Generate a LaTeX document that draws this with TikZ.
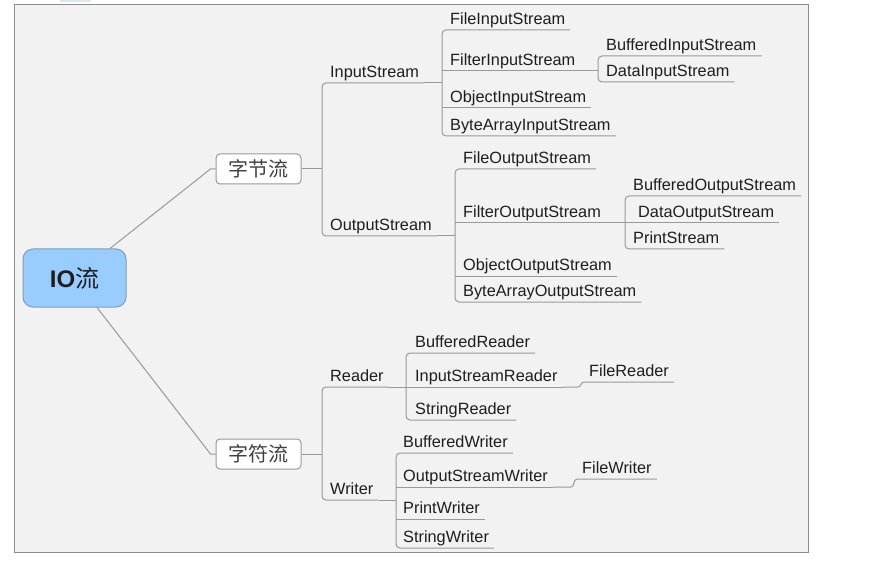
\documentclass[tikz,border=0pt]{standalone}
\usepackage{fontspec}
\setmainfont{Liberation Sans}
\newfontfamily\cjk{Noto Sans CJK SC}
\definecolor{bgc}{HTML}{F2F2F2}
\definecolor{framec}{HTML}{8C8C8C}
\definecolor{linec}{HTML}{999999}
\definecolor{txtc}{HTML}{1E1E1E}
\definecolor{rootfill}{HTML}{99CCFF}
\definecolor{rootdraw}{HTML}{7F9DBF}
\definecolor{tabc}{HTML}{DCE6F0}
\begin{document}
\begin{tikzpicture}[x=1pt,y=-1pt,
  br/.style={draw=linec, line width=1pt, rounded corners=4pt},
  leaf/.style={anchor=south west, inner xsep=5pt, inner ysep=0pt, text depth=5pt,
    font=\fontsize{16.3}{18}\selectfont, text=txtc},
  cat/.style={draw=linec, line width=1pt, fill=white, rounded corners=4pt,
    minimum width=85pt, minimum height=30pt, inner sep=0pt,
    font=\cjk\fontsize{20}{22}\selectfont, text=txtc!85},
  rootbox/.style={draw=rootdraw, line width=1pt, fill=rootfill, rounded corners=10pt,
    minimum width=103pt, minimum height=58pt, inner sep=0pt,
    font=\fontsize{24}{26}\selectfont, text=txtc}
]
\useasboundingbox (0,0) rectangle (873,564);
\fill[tabc] (60,0) rectangle (91,2);
\draw[fill=bgc, draw=framec, line width=1pt] (14,5) rectangle (808,552);

% root and categories
\node[rootbox] (io) at (74.5,278) {\textbf{IO}{\cjk 流}};
\node[cat] (zj) at (258.5,169) {字节流};
\node[cat] (zf) at (258.5,454) {字符流};

\draw[br, rounded corners=0pt] ([xshift=35.5pt]io.north) -- ([xshift=-5pt]zj.west) -- (zj.west);
\draw[br, rounded corners=0pt] ([xshift=22.5pt]io.south) -- ([xshift=-5pt]zf.west) -- (zf.west);

% junction coordinates
\coordinate (jA) at (322,169);
\coordinate (jB) at (322,454);
\coordinate (jIS) at (442,83);
\coordinate (jFIS) at (598,71);
\coordinate (jOS) at (455,236);
\coordinate (jFOS) at (625,223);
\coordinate (jR) at (406,387);
\coordinate (jW) at (396,500);

% level 2
\node[leaf] (is) at (325,83) {InputStream};
\node[leaf] (os) at (325,236) {OutputStream};
\node[leaf] (rd) at (325,387) {Reader};
\node[leaf] (wr) at (325,500) {Writer};

% InputStream children
\node[leaf] (fis) at (445,30) {FileInputStream};
\node[leaf] (filis) at (445,71) {FilterInputStream};
\node[leaf] (ois) at (445,108) {ObjectInputStream};
\node[leaf] (bais) at (445,136) {ByteArrayInputStream};
\node[leaf] (bis) at (601,56) {BufferedInputStream};
\node[leaf] (dis) at (601,82) {DataInputStream};

% OutputStream children
\node[leaf] (fos) at (458,169) {FileOutputStream};
\node[leaf] (filos) at (458,223) {FilterOutputStream};
\node[leaf] (oos) at (458,276) {ObjectOutputStream};
\node[leaf] (baos) at (458,302) {ByteArrayOutputStream};
\node[leaf] (bos) at (628,196) {BufferedOutputStream};
\node[leaf] (dos) at (633,223) {DataOutputStream};
\node[leaf] (ps) at (628,249) {PrintStream};

% Reader children
\node[leaf] (brd) at (410,353) {BufferedReader};
\node[leaf] (isr) at (410,387) {InputStreamReader};
\node[leaf] (srd) at (410,420) {StringReader};
\node[leaf] (frd) at (584,382) {FileReader};

% Writer children
\node[leaf] (bwr) at (398,453) {BufferedWriter};
\node[leaf] (osw) at (398,487) {OutputStreamWriter};
\node[leaf] (pwr) at (398,519) {PrintWriter};
\node[leaf] (swr) at (398,548) {StringWriter};
\node[leaf] (fwr) at (577,479) {FileWriter};

% level-1 connectors
\draw[br] (zj.east) -- (jA);
\draw[br] (zf.east) -- (jB);
\draw[br] (is.south east) -| (jA) |- (os.south east);
\draw[br] (rd.south east) -| (jB) |- (wr.south east);

% parent lines to junctions
\draw[br] (is.south east) -- (jIS);
\draw[br] (os.south east) -- (jOS);
\draw[br] (rd.south east) -- (jR);
\draw[br] (wr.south east) -- (jW);
\draw[br] (filis.south east) -- (jFIS);
\draw[br] (filos.south east) -- (jFOS);

% InputStream trunk
\draw[br] (fis.south east) -| (jIS) |- (bais.south east);
\draw[br] (jIS |- filis.south) -- (filis.south east);
\draw[br] (jIS |- ois.south) -- (ois.south east);
\draw[br] (bis.south east) -| (jFIS) |- (dis.south east);

% OutputStream trunk
\draw[br] (fos.south east) -| (jOS) |- (baos.south east);
\draw[br] (jOS |- filos.south) -- (filos.south east);
\draw[br] (jOS |- oos.south) -- (oos.south east);
\draw[br] (bos.south east) -| (jFOS) |- (ps.south east);
\draw[br] (jFOS |- dos.south) -- (dos.south east);

% Reader trunk
\draw[br] (brd.south east) -| (jR) |- (srd.south east);
\draw[br] (jR |- isr.south) -- (isr.south east);
\draw[br, rounded corners=0pt] (isr.south east) -- ([xshift=-6pt]frd.south west |- isr.south east)
  to[out=0,in=180] (frd.south west) -- (frd.south east);

% Writer trunk
\draw[br] (bwr.south east) -| (jW) |- (swr.south east);
\draw[br] (jW |- osw.south) -- (osw.south east);
\draw[br] (jW |- pwr.south) -- (pwr.south east);
\draw[br, rounded corners=0pt] (osw.south east) -- ([xshift=-6pt]fwr.south west |- osw.south east)
  to[out=0,in=180] (fwr.south west) -- (fwr.south east);
\end{tikzpicture}
\end{document}
